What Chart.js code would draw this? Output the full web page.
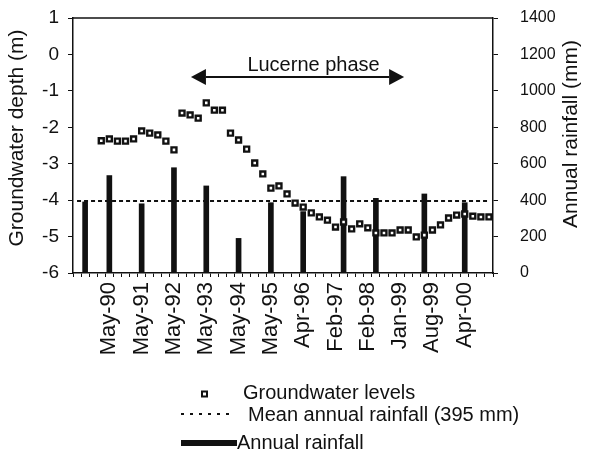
<!DOCTYPE html>
<html>
<head>
<meta charset="utf-8">
<script src="https://cdn.jsdelivr.net/npm/chart.js@4.4.1/dist/chart.umd.min.js"></script>
<style>
  html, body { margin: 0; padding: 0; background: #fff; }
  #wrap { width: 593px; height: 461px; }
</style>
</head>
<body>
<div id="wrap"><canvas id="gwChart" width="593" height="461"></canvas></div>
<script>
const FONT = '"Liberation Sans", Arial, sans-serif';
const INK = '#111';

// x axis: one slot per measurement, only every 4th slot is labelled
const categoryCount = 52;
const tickLabels = ['May-90', 'May-91', 'May-92', 'May-93', 'May-94', 'May-95',
                    'Apr-96', 'Feb-97', 'Feb-98', 'Jan-99', 'Aug-99', 'Apr-00'];
const tickAt = [4, 8, 12, 16, 20, 24, 28, 32, 36, 40, 44, 48];

// groundwater depth (m), from slot 3 onwards
const gwStart = 3;
const gwDepth = [
  -2.37, -2.32, -2.38, -2.38, -2.32, -2.10, -2.16, -2.21, -2.38, -2.62,
  -1.61, -1.66, -1.75, -1.33, -1.53, -1.53, -2.16, -2.35, -2.60, -2.98,
  -3.28, -3.67, -3.61, -3.83, -4.08, -4.19, -4.35, -4.46, -4.55, -4.74,
  -4.60, -4.79, -4.65, -4.76, -4.90, -4.90, -4.90, -4.82, -4.82, -5.01,
  -4.96, -4.82, -4.68, -4.49, -4.41, -4.38, -4.44, -4.46, -4.46
];

// annual rainfall (mm) and the slot it is plotted at
const rainAt = [1, 4, 8, 12, 16, 20, 24, 28, 33, 37, 43, 48];
const rainfallMm = [390, 535, 380, 578, 478, 190, 386, 337, 529, 410, 434, 386];
const meanRainfall = 395;

// Lucerne phase arrow (x in slots, y in m)
const arrowFrom = 14.1;
const arrowTo = 40.5;
const arrowDepth = -0.62;

// build the series the library needs
const categories = Array.from({ length: categoryCount }, () => '');
tickAt.forEach((idx, k) => { categories[idx] = tickLabels[k]; });
const gwData = categories.map((_, i) => (i >= gwStart && i - gwStart < gwDepth.length ? gwDepth[i - gwStart] : null));
const rainData = categories.map((_, i) => {
  const k = rainAt.indexOf(i);
  return k >= 0 ? rainfallMm[k] : null;
});
const meanData = categories.map(() => meanRainfall);

// fixed box sizes so the plot area lands where the original one is
function fixBox(size) {
  return s => {
    if (s.isHorizontal()) s.height = size; else s.width = size;
    s.paddingTop = 0; s.paddingBottom = 0; s.paddingLeft = 0; s.paddingRight = 0;
  };
}

// annotations, axis titles and legend
const overlay = {
  id: 'overlay',
  afterDraw(chart) {
    const { ctx, chartArea: a, scales } = chart;
    ctx.save();

    // top frame line
    ctx.strokeStyle = INK;
    ctx.lineWidth = 1.5;
    ctx.beginPath();
    ctx.moveTo(a.left, a.top);
    ctx.lineTo(a.right, a.top);
    ctx.stroke();

    // double arrow
    const x0 = scales.x.getPixelForValue(arrowFrom);
    const x1 = scales.x.getPixelForValue(arrowTo);
    const yA = scales.y.getPixelForValue(arrowDepth);
    const head = 15, half = 8;
    ctx.lineWidth = 2;
    ctx.beginPath();
    ctx.moveTo(x0 + head, yA);
    ctx.lineTo(x1 - head, yA);
    ctx.stroke();
    ctx.fillStyle = INK;
    ctx.beginPath();
    ctx.moveTo(x0, yA); ctx.lineTo(x0 + head, yA - half); ctx.lineTo(x0 + head, yA + half);
    ctx.closePath(); ctx.fill();
    ctx.beginPath();
    ctx.moveTo(x1, yA); ctx.lineTo(x1 - head, yA - half); ctx.lineTo(x1 - head, yA + half);
    ctx.closePath(); ctx.fill();

    ctx.font = '20px ' + FONT;
    ctx.textAlign = 'center';
    ctx.textBaseline = 'alphabetic';
    ctx.fillText('Lucerne phase', (x0 + x1) / 2 + 16, yA - 6);

    // axis titles (both read bottom to top)
    ctx.font = '21px ' + FONT;
    ctx.textBaseline = 'middle';
    [['Groundwater depth (m)', 17, 138], ['Annual rainfall (mm)', 571, 134]].forEach(([t, x, y]) => {
      ctx.save();
      ctx.translate(x, y);
      ctx.rotate(-Math.PI / 2);
      ctx.fillText(t, 0, 0);
      ctx.restore();
    });

    // legend
    ctx.font = '20px ' + FONT;
    ctx.textAlign = 'left';
    ctx.textBaseline = 'alphabetic';

    ctx.lineWidth = 2;
    ctx.strokeStyle = INK;
    ctx.fillStyle = '#fff';
    ctx.beginPath();
    ctx.rect(202, 391.5, 5, 5);
    ctx.fill();
    ctx.stroke();
    ctx.fillStyle = INK;
    ctx.fillText('Groundwater levels', 243, 399);

    ctx.setLineDash([3, 6]);
    ctx.beginPath();
    ctx.moveTo(181, 414);
    ctx.lineTo(234, 414);
    ctx.stroke();
    ctx.setLineDash([]);
    ctx.fillText('Mean annual rainfall (395 mm)', 248, 421);

    ctx.lineWidth = 6;
    ctx.beginPath();
    ctx.moveTo(181, 443);
    ctx.lineTo(237, 443);
    ctx.stroke();
    ctx.fillText('Annual rainfall', 237, 449);

    ctx.restore();
  }
};

new Chart(document.getElementById('gwChart'), {
  type: 'bar',
  data: {
    labels: categories,
    datasets: [
      {
        type: 'line',
        label: 'Groundwater levels',
        data: gwData,
        yAxisID: 'y',
        showLine: false,
        pointStyle: 'rect',
        pointRadius: 3.5,
        pointBorderWidth: 2.4,
        pointBackgroundColor: '#fff',
        pointBorderColor: INK,
        order: 0
      },
      {
        type: 'line',
        label: 'Mean annual rainfall (395 mm)',
        data: meanData,
        yAxisID: 'y2',
        borderColor: INK,
        borderWidth: 2,
        borderDash: [4, 3],
        pointRadius: 0,
        order: 1
      },
      {
        type: 'bar',
        label: 'Annual rainfall',
        data: rainData,
        yAxisID: 'y2',
        backgroundColor: INK,
        barThickness: 5,
        order: 2
      }
    ]
  },
  options: {
    responsive: false,
    animation: false,
    layout: { padding: { top: 18, right: 0, bottom: 88, left: 0 } },
    plugins: { legend: { display: false }, tooltip: { enabled: false } },
    scales: {
      x: {
        offset: true,
        grid: { offset: true, drawOnChartArea: false, drawTicks: true, tickLength: 4, color: INK },
        border: { color: INK, width: 1.5 },
        ticks: {
          autoSkip: false, minRotation: 90, maxRotation: 90, padding: 5,
          color: INK, font: { family: FONT, size: 22 }
        },
        afterFit: fixBox(100)
      },
      y: {
        position: 'left',
        min: -6,
        max: 1,
        ticks: { stepSize: 1, padding: 9, color: INK, font: { family: FONT, size: 19 } },
        grid: { drawOnChartArea: false, tickLength: 5, color: INK },
        border: { color: INK, width: 1.5 },
        afterFit: fixBox(73)
      },
      y2: {
        position: 'right',
        min: 0,
        max: 1400,
        ticks: {
          stepSize: 200, padding: 22, color: INK, font: { family: FONT, size: 16 },
          callback: v => String(v)
        },
        grid: { drawOnChartArea: false, tickLength: 5, color: INK },
        border: { color: INK, width: 1.5 },
        afterFit: fixBox(100)
      }
    }
  },
  plugins: [overlay]
});
</script>
</body>
</html>
